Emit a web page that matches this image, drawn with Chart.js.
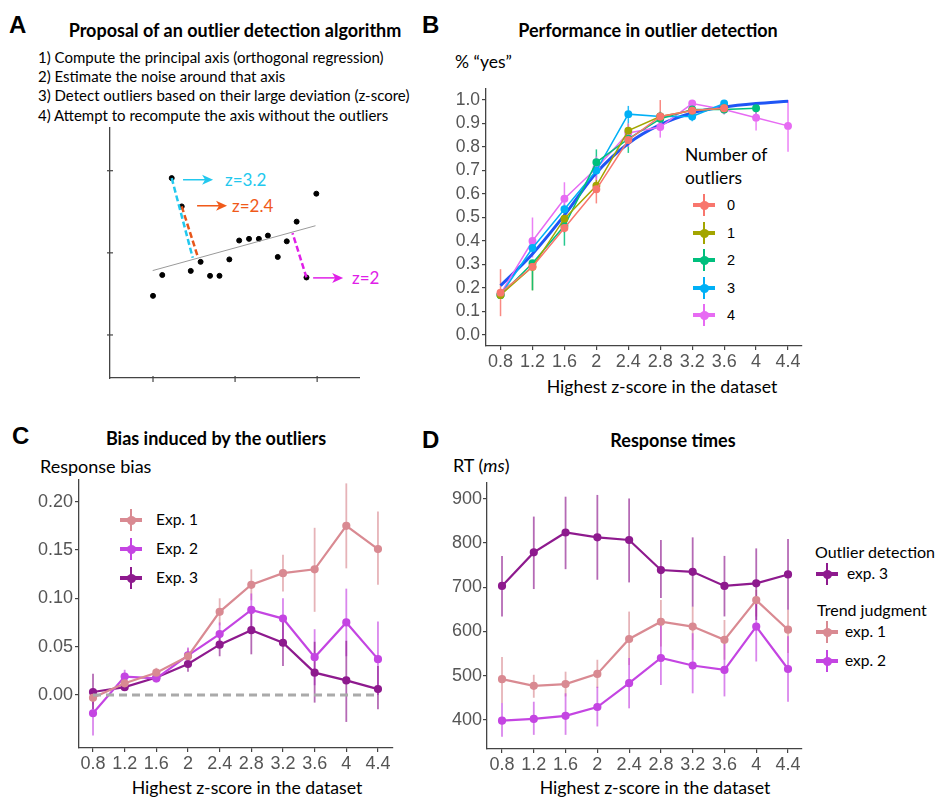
<!DOCTYPE html>
<html><head><meta charset="utf-8">
<script src="https://cdn.jsdelivr.net/npm/chart.js@4.4.1/dist/chart.umd.min.js"></script>
<style>
body{margin:0;background:#fff;width:937px;height:798px;overflow:hidden;position:relative;font-family:Lato,"Open Sans",sans-serif;color:#000}
.t{position:absolute;white-space:nowrap;line-height:1;transform:translateY(-50%)}
.c{transform:translate(-50%,-50%)}
.b{font-weight:bold}
.L{font-family:"Liberation Sans",Arial,sans-serif;font-weight:bold;font-size:24px}
.box{position:absolute}
.g{position:absolute}
.g .h{position:absolute;left:-11px;top:-2px;width:22px;height:4px}
.g .v{position:absolute;left:-1px;top:-11px;width:2px;height:22px}
.g .d{position:absolute;left:-4.5px;top:-4.5px;width:9px;height:9px;border-radius:50%}
</style></head><body>

<!-- Panel A texts -->
<div class="t L" style="left:9px;top:25px">A</div>
<div class="t c b" style="left:235px;top:30px;font-size:18px">Proposal of an outlier detection algorithm</div>
<div class="t" style="left:38px;top:57px;font-size:15px">1) Compute the principal axis (orthogonal regression)</div>
<div class="t" style="left:38px;top:76px;font-size:15px">2) Estimate the noise around that axis</div>
<div class="t" style="left:38px;top:95px;font-size:15px">3) Detect outliers based on their large deviation (z-score)</div>
<div class="t" style="left:38px;top:115px;font-size:15px">4) Attempt to recompute the axis without the outliers</div>
<div class="t" style="left:225px;top:179px;font-size:17px;color:#22C8EE">z=3.2</div>
<div class="t" style="left:232px;top:205px;font-size:17px;color:#F05A1A">z=2.4</div>
<div class="t" style="left:352px;top:277px;font-size:17px;color:#E020E8">z=2</div>

<!-- Panel B texts -->
<div class="t L" style="left:422px;top:25px">B</div>
<div class="t c b" style="left:648px;top:30px;font-size:18px">Performance in outlier detection</div>
<div class="t" style="left:455px;top:62px;font-size:17.5px">% “yes”</div>
<div class="t c" style="left:662px;top:387px;font-size:17.7px">Highest z-score in the dataset</div>
<div class="t" style="left:685px;top:155px;font-size:17.4px">Number of</div>
<div class="t" style="left:685px;top:178px;font-size:17.4px">outliers</div>
<div id="legB"></div>

<!-- Panel C texts -->
<div class="t L" style="left:12px;top:436px">C</div>
<div class="t c b" style="left:216px;top:438px;font-size:18px">Bias induced by the outliers</div>
<div class="t" style="left:40px;top:466px;font-size:18px">Response bias</div>
<div class="t c" style="left:247px;top:788px;font-size:17.7px">Highest z-score in the dataset</div>
<div id="legC"></div>

<!-- Panel D texts -->
<div class="t L" style="left:422px;top:440px">D</div>
<div class="t c b" style="left:673px;top:440px;font-size:18px">Response times</div>
<div class="t" style="left:453px;top:465px;font-size:18px">RT (<i>ms</i>)</div>
<div class="t c" style="left:655px;top:788px;font-size:17.7px">Highest z-score in the dataset</div>
<div class="t" style="left:815px;top:552px;font-size:16px">Outlier detection</div>
<div class="t" style="left:817px;top:610px;font-size:16px">Trend judgment</div>
<div id="legD"></div>

<div class="box"><canvas id="cA"></canvas></div>
<div class="box"><canvas id="cB"></canvas></div>
<div class="box"><canvas id="cC"></canvas></div>
<div class="box"><canvas id="cD"></canvas></div>

<script>
// ---------- shared categories ----------
const zScores = [0.8, 1.2, 1.6, 2, 2.4, 2.8, 3.2, 3.6, 4, 4.4];

// ---------- Panel A data (schematic scatter) ----------
const aPointsX = [1.0, 1.113, 1.228, 1.35, 1.46, 1.58, 1.695, 1.81, 1.93, 2.05, 2.17, 2.29, 2.40, 2.52, 2.63, 2.75, 2.87, 2.99];
const aPointsY = [1.476, 1.73, 2.91, 2.565, 1.78, 1.89, 1.72, 1.72, 1.92, 2.15, 2.17, 2.17, 2.21, 1.95, 2.14, 2.38, 1.70, 2.72];
const aAxisX = [0.996, 2.98];
const aAxisY = [1.784, 2.33];
const aDevCyanX = [1.228, 1.484], aDevCyanY = [2.91, 1.94];
const aDevOrangeX = [1.35, 1.545], aDevOrangeY = [2.565, 1.955];
const aDevMagentaX = [2.87, 2.70], aDevMagentaY = [1.70, 2.24];
const aArrowX0 = [1.366, 1.537, 2.951];
const aArrowX1 = [1.732, 1.902, 3.317];
const aArrowY = [2.89, 2.573, 1.695];
const aArrowColors = ['#22C8EE', '#F05A1A', '#E020E8'];
const aTicks = [1, 2, 3];

// ---------- Panel B data ----------
const outlierCounts = ['0', '1', '2', '3', '4'];
const bColors = ['#F8766D', '#A3A500', '#00BF7D', '#00B0F6', '#E76BF3'];
const b0 = [0.18, 0.29, 0.455, 0.62, 0.83, 0.93, 0.955, 0.965];
const b0lo = [0.08, 0.275, 0.435, 0.56, 0.80, 0.88, 0.94, 0.95];
const b0hi = [0.28, 0.305, 0.475, 0.68, 0.86, 1.00, 0.97, 0.98];
const b1 = [0.17, 0.29, 0.495, 0.635, 0.87, 0.93, 0.955, 0.965];
const b1lo = [0.16, 0.19, 0.47, 0.61, 0.84, 0.91, 0.94, 0.95];
const b1hi = [0.18, 0.30, 0.52, 0.66, 0.90, 0.95, 0.97, 0.98];
const b2 = [0.17, 0.305, 0.465, 0.735, 0.835, 0.92, 0.96, 0.96, 0.965];
const b2lo = [0.16, 0.19, 0.38, 0.68, 0.775, 0.90, 0.94, 0.94, 0.94];
const b2hi = [0.18, 0.31, 0.49, 0.79, 0.87, 0.94, 0.98, 0.98, 0.99];
const b3 = [0.17, 0.37, 0.535, 0.70, 0.94, 0.93, 0.93, 0.985];
const b3lo = [0.16, 0.35, 0.51, 0.67, 0.90, 0.91, 0.91, 0.97];
const b3hi = [0.19, 0.39, 0.56, 0.73, 0.975, 0.95, 0.95, 0.995];
const b4 = [0.175, 0.40, 0.58, 0.71, 0.86, 0.885, 0.985, 0.96, 0.925, 0.89];
const b4lo = [0.16, 0.33, 0.52, 0.66, 0.80, 0.84, 0.97, 0.94, 0.87, 0.78];
const b4hi = [0.19, 0.50, 0.65, 0.76, 0.90, 0.93, 1.0, 0.98, 0.99, 1.0];
const bFit = [0.21, 0.345, 0.51, 0.69, 0.815, 0.895, 0.945, 0.97, 0.985, 0.995];
const bYTicks = [0, 0.1, 0.2, 0.3, 0.4, 0.5, 0.6, 0.7, 0.8, 0.9, 1.0];

// ---------- Panel C data ----------
const expNames = ['Exp. 1', 'Exp. 2', 'Exp. 3'];
const cColors = ['#D98A92', '#C445E2', '#8E1A8E'];
const c1 = [-0.003, 0.012, 0.023, 0.040, 0.086, 0.114, 0.126, 0.130, 0.175, 0.151];
const c1lo = [-0.010, 0.006, 0.017, 0.030, 0.072, 0.098, 0.107, 0.086, 0.131, 0.114];
const c1hi = [0.005, 0.018, 0.028, 0.048, 0.100, 0.130, 0.145, 0.173, 0.219, 0.190];
const c2 = [-0.019, 0.019, 0.017, 0.041, 0.063, 0.088, 0.079, 0.039, 0.075, 0.037];
const c2lo = [-0.042, 0.012, 0.013, 0.033, 0.050, 0.064, 0.050, 0.010, 0.040, 0.000];
const c2hi = [0.000, 0.026, 0.022, 0.049, 0.075, 0.105, 0.100, 0.068, 0.110, 0.076];
const c3 = [0.003, 0.008, 0.018, 0.032, 0.052, 0.067, 0.054, 0.023, 0.015, 0.006];
const c3lo = [-0.015, 0.004, 0.014, 0.024, 0.040, 0.042, 0.030, -0.008, -0.028, -0.015];
const c3hi = [0.022, 0.013, 0.023, 0.040, 0.062, 0.092, 0.080, 0.055, 0.056, 0.030];
const cYTicks = [0, 0.05, 0.10, 0.15, 0.20];

// ---------- Panel D data ----------
const dColors = { exp1: '#D98A92', exp2: '#C445E2', exp3: '#8E1A8E' };
const d3 = [703, 779, 824, 813, 807, 739, 735, 703, 709, 729];
const d3lo = [634, 696, 741, 717, 711, 676, 656, 634, 626, 649];
const d3hi = [771, 860, 905, 909, 901, 807, 813, 771, 788, 809];
const d1 = [492, 477, 481, 504, 583, 622, 611, 581, 671, 604];
const d1lo = [438, 450, 453, 472, 524, 566, 558, 536, 634, 551];
const d1hi = [542, 502, 509, 536, 645, 671, 656, 626, 694, 649];
const d2 = [398, 402, 409, 429, 483, 540, 523, 513, 611, 515];
const d2lo = [362, 366, 366, 385, 426, 479, 460, 453, 532, 441];
const d2hi = [438, 441, 460, 475, 540, 626, 596, 573, 671, 589];
const dYTicks = [400, 500, 600, 700, 800, 900];

// ---------- helpers ----------
const AX = '#444';
const pts = (xs, ys) => ys.map((v, i) => ({ x: xs[i], y: v }));
const zpts = ys => pts(zScores, ys);

function fade(hex, a) {
  const n = parseInt(hex.slice(1), 16);
  return `rgba(${n >> 16},${(n >> 8) & 255},${n & 255},${a})`;
}

const errPlugin = {
  id: 'errBars',
  beforeDatasetsDraw(chart) {
    const { ctx, scales: { x, y } } = chart;
    chart.data.datasets.forEach(ds => {
      if (!ds.lo) return;
      ctx.save();
      ctx.strokeStyle = ds.errColor;
      ctx.lineWidth = ds.errWidth;
      ds.lo.forEach((lo, j) => {
        const px = x.getPixelForValue(zScores[j]);
        ctx.beginPath();
        ctx.moveTo(px, y.getPixelForValue(lo));
        ctx.lineTo(px, y.getPixelForValue(ds.hi[j]));
        ctx.stroke();
      });
      ctx.restore();
    });
  }
};

const aPlugin = {
  id: 'aDeco',
  afterDatasetsDraw(chart) {
    const { ctx, scales: { x, y }, chartArea } = chart;
    ctx.save();
    ctx.strokeStyle = AX; ctx.lineWidth = 1.2;
    aTicks.forEach(v => {
      const px = x.getPixelForValue(v), py = y.getPixelForValue(v);
      ctx.beginPath(); ctx.moveTo(px, chartArea.bottom - 2); ctx.lineTo(px, chartArea.bottom + 4); ctx.stroke();
      ctx.beginPath(); ctx.moveTo(chartArea.left - 3, py); ctx.lineTo(chartArea.left + 3, py); ctx.stroke();
    });
    aArrowY.forEach((yv, i) => {
      const x0 = x.getPixelForValue(aArrowX0[i]), x1 = x.getPixelForValue(aArrowX1[i]), py = y.getPixelForValue(yv);
      ctx.strokeStyle = aArrowColors[i]; ctx.fillStyle = aArrowColors[i]; ctx.lineWidth = 1.5;
      ctx.beginPath(); ctx.moveTo(x0, py); ctx.lineTo(x1 - 6, py); ctx.stroke();
      ctx.beginPath(); ctx.moveTo(x1, py); ctx.lineTo(x1 - 11, py - 5); ctx.lineTo(x1 - 8, py); ctx.lineTo(x1 - 11, py + 5); ctx.closePath(); ctx.fill();
    });
    ctx.restore();
  }
};

function makeChart(id, box, area, cfg) {
  const div = document.getElementById(id).parentNode;
  Object.assign(div.style, { left: box.l + 'px', top: box.t + 'px', width: box.w + 'px', height: box.h + 'px' });
  const yW = area.l - box.l, xH = box.t + box.h - area.b;
  const padTop = area.t - box.t, padRight = box.l + box.w - area.r;
  cfg.options = cfg.options || {};
  Object.assign(cfg.options, {
    responsive: true, maintainAspectRatio: false, animation: false,
    layout: { padding: { top: padTop, right: padRight, left: 0, bottom: 0 } },
  });
  cfg.options.plugins = { legend: { display: false }, tooltip: { enabled: false } };
  const sx = cfg.options.scales.x, sy = cfg.options.scales.y;
  sx.afterFit = s => { s.height = xH; s.paddingLeft = 0; s.paddingRight = 0; };
  sy.afterFit = s => { s.width = yW; s.paddingTop = 0; s.paddingBottom = 0; };
  return new Chart(document.getElementById(id), cfg);
}

function zAxis(min, max) {
  return {
    type: 'linear', min, max,
    afterBuildTicks: s => { s.ticks = zScores.map(v => ({ value: v })); },
    border: { display: true, color: AX, width: 1.3 },
    grid: { display: true, drawOnChartArea: false, drawTicks: true, tickLength: 4, color: AX, lineWidth: 1.2 },
    ticks: { color: '#555', font: { family: 'Liberation Sans', size: 18 }, padding: 1, maxRotation: 0, autoSkip: false, callback: v => String(v) }
  };
}
function valAxis(min, max, tickVals, digits, size, pad) {
  return {
    type: 'linear', min, max,
    afterBuildTicks: s => { s.ticks = tickVals.map(v => ({ value: v })); },
    border: { display: true, color: AX, width: 1.3 },
    grid: { display: true, drawOnChartArea: false, drawTicks: true, tickLength: 4, color: AX, lineWidth: 1.2 },
    ticks: { color: '#555', font: { family: 'Liberation Sans', size }, padding: pad, autoSkip: false, callback: v => v.toFixed(digits) }
  };
}

function series(ys, lo, hi, color, opts) {
  return Object.assign({
    type: 'line', data: zpts(ys), lo, hi,
    borderColor: color, backgroundColor: color, pointBackgroundColor: color, pointBorderColor: color,
    borderWidth: 2.2, pointRadius: 3, tension: 0, errColor: fade(color, 0.65), errWidth: 1.8
  }, opts || {});
}

// ---------- Panel A chart ----------
makeChart('cA', { l: 0, t: 120, w: 420, h: 275 }, { l: 110, r: 359, t: 128, b: 378 }, {
  type: 'scatter',
  data: {
    datasets: [
      { type: 'line', data: pts(aAxisX, aAxisY), borderColor: '#9A9A9A', borderWidth: 1, pointRadius: 0 },
      { type: 'line', data: pts(aDevCyanX, aDevCyanY), borderColor: '#22C8EE', borderWidth: 2.5, borderDash: [6, 3], pointRadius: 0 },
      { type: 'line', data: pts(aDevOrangeX, aDevOrangeY), borderColor: '#E8561A', borderWidth: 2.5, borderDash: [6, 3], pointRadius: 0 },
      { type: 'line', data: pts(aDevMagentaX, aDevMagentaY), borderColor: '#E020E8', borderWidth: 2.5, borderDash: [6, 3], pointRadius: 0 },
      { type: 'scatter', data: pts(aPointsX, aPointsY), backgroundColor: '#000', borderColor: '#000', pointRadius: 2.5 }
    ]
  },
  options: {
    scales: {
      x: { type: 'linear', min: 0.476, max: 3.51, ticks: { display: false }, grid: { display: false }, border: { display: true, color: AX, width: 1.3 } },
      y: { type: 'linear', min: 0.476, max: 3.52, ticks: { display: false }, grid: { display: false }, border: { display: true, color: AX, width: 1.3 } }
    }
  },
  plugins: [aPlugin]
});

// ---------- Panel B chart ----------
const bSeries = [[b0, b0lo, b0hi], [b1, b1lo, b1hi], [b2, b2lo, b2hi], [b3, b3lo, b3hi], [b4, b4lo, b4hi]];
const bDatasets = bSeries.map((s, i) => series(s[0], s[1], s[2], bColors[i], { borderWidth: 1.5, pointRadius: 3.2, errColor: fade(bColors[i], 0.85), errWidth: 1.5 }));
bDatasets.push({ type: 'line', data: zpts(bFit), borderColor: '#1F55F5', borderWidth: 3, pointRadius: 0, cubicInterpolationMode: 'monotone' });
makeChart('cB', { l: 420, t: 80, w: 400, h: 290 }, { l: 486, r: 802, t: 89, b: 346 }, {
  type: 'line',
  data: { datasets: bDatasets },
  options: { scales: { x: zAxis(0.618, 4.575), y: valAxis(-0.047, 1.047, bYTicks, 1, 17.5, 2) } },
  plugins: [errPlugin]
});

// ---------- Panel C chart ----------
const cDatasets = [
  { type: 'line', data: pts([zScores[0], zScores[zScores.length - 1]], [0, 0]), borderColor: '#AAAAAA', borderWidth: 3, borderDash: [8, 5], pointRadius: 0 },
  series(c1, c1lo, c1hi, cColors[0]),
  series(c2, c2lo, c2hi, cColors[1]),
  series(c3, c3lo, c3hi, cColors[2])
];
makeChart('cC', { l: 0, t: 470, w: 410, h: 300 }, { l: 79, r: 393, t: 480, b: 748 }, {
  type: 'line',
  data: { datasets: cDatasets },
  options: { scales: { x: zAxis(0.623, 4.59), y: valAxis(-0.055, 0.2225, cYTicks, 2, 18, 2) } },
  plugins: [errPlugin]
});

// ---------- Panel D chart ----------
const dDatasets = [
  series(d1, d1lo, d1hi, dColors.exp1),
  series(d2, d2lo, d2hi, dColors.exp2),
  series(d3, d3lo, d3hi, dColors.exp3)
];
makeChart('cD', { l: 440, t: 470, w: 380, h: 300 }, { l: 487, r: 802, t: 483, b: 749 }, {
  type: 'line',
  data: { datasets: dDatasets },
  options: { scales: { x: zAxis(0.611, 4.576), y: valAxis(334, 936, dYTicks, 0, 18, 1) } },
  plugins: [errPlugin]
});

// ---------- legends (HTML glyphs + real text) ----------
function glyph(parent, cx, cy, color, label, lx, size, fam) {
  const g = document.createElement('div');
  g.className = 'g';
  g.style.left = cx + 'px'; g.style.top = cy + 'px';
  g.innerHTML = `<div class="h" style="background:${color}"></div><div class="v" style="background:${color}"></div><div class="d" style="background:${color}"></div>`;
  parent.appendChild(g);
  const t = document.createElement('div');
  t.className = 't';
  t.style.left = lx + 'px'; t.style.top = cy + 'px'; t.style.fontSize = size + 'px';
  if (fam) t.style.fontFamily = fam;
  t.textContent = label;
  parent.appendChild(t);
}
const legB = document.getElementById('legB');
const legBY = [205, 233, 260, 288, 315];
outlierCounts.forEach((lab, i) => glyph(legB, 704, legBY[i], bColors[i], lab, 727, 14.5, 'Liberation Sans'));
const legC = document.getElementById('legC');
const legCY = [520, 549, 578];
expNames.forEach((lab, i) => glyph(legC, 131, legCY[i], cColors[i], lab, 156, 15.5));
const legD = document.getElementById('legD');
glyph(legD, 827, 574, dColors.exp3, 'exp. 3', 847, 15.5);
glyph(legD, 827, 632, dColors.exp1, 'exp. 1', 845, 15.5);
glyph(legD, 827, 661, dColors.exp2, 'exp. 2', 845, 15.5);
</script>
</body></html>
